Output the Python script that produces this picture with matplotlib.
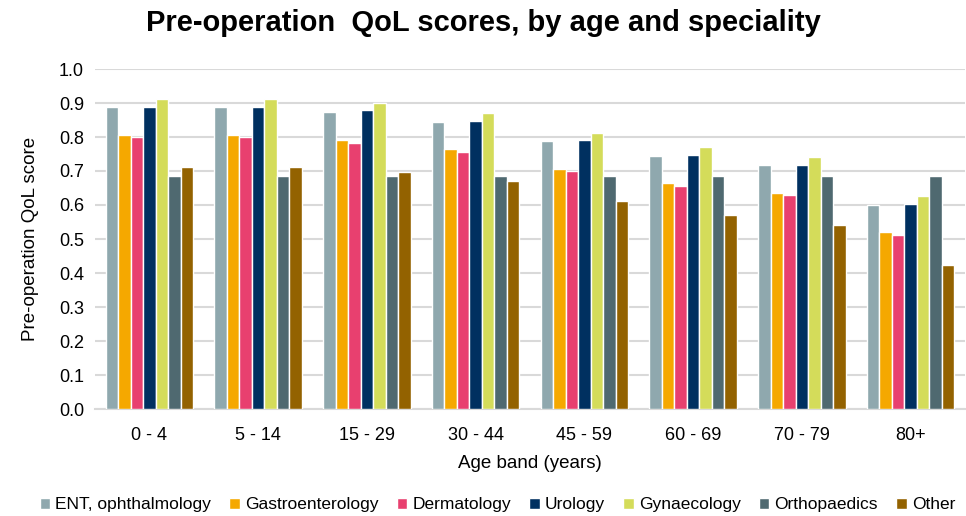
import numpy as np
import matplotlib.pyplot as plt

plt.rcParams["font.family"] = ["Liberation Sans", "DejaVu Sans"]

age_bands = ["0 - 4", "5 - 14", "15 - 29", "30 - 44", "45 - 59", "60 - 69", "70 - 79", "80+"]
specialities = ["ENT, ophthalmology", "Gastroenterology", "Dermatology", "Urology",
                "Gynaecology", "Orthopaedics", "Other"]
colours = ["#8FA8AE", "#F5A800", "#E8406F", "#003060", "#D4DC5A", "#4F6970", "#936200"]

ent = [0.888, 0.888, 0.874, 0.844, 0.787, 0.744, 0.717, 0.600]
gastro = [0.806, 0.806, 0.791, 0.765, 0.706, 0.666, 0.635, 0.520]
derm = [0.799, 0.799, 0.782, 0.756, 0.699, 0.655, 0.628, 0.511]
urology = [0.889, 0.889, 0.879, 0.847, 0.790, 0.747, 0.717, 0.604]
gynae = [0.912, 0.912, 0.900, 0.871, 0.812, 0.771, 0.741, 0.626]
ortho = [0.685, 0.685, 0.685, 0.685, 0.684, 0.684, 0.685, 0.685]
other = [0.712, 0.712, 0.697, 0.670, 0.612, 0.571, 0.540, 0.424]
series = [ent, gastro, derm, urology, gynae, ortho, other]

fig = plt.figure(figsize=(9.66, 5.16), dpi=100)
ax = fig.add_axes([95 / 966, 1 - 409 / 516, 870 / 966, 340 / 516])

x = np.arange(len(age_bands))
w = 0.115
for i, (vals, name, col) in enumerate(zip(series, specialities, colours)):
    ax.bar(x + (i - 3) * w, vals, width=w, color=col, edgecolor="white",
           linewidth=1.0, label=name, zorder=3)

ax.set_xlim(-0.5, len(age_bands) - 0.5)
ax.set_ylim(0, 1.0)
ax.set_yticks(np.arange(0, 1.01, 0.1))
ax.set_yticklabels([f"{v:.1f}" for v in np.arange(0, 1.01, 0.1)])
ax.set_xticks(x)
ax.set_xticklabels(age_bands)
ax.tick_params(axis="both", length=0, labelsize=13, colors="#000000")
ax.tick_params(axis="x", pad=13)
ax.tick_params(axis="y", pad=8)
ax.yaxis.grid(True, color="#D9D9D9", linewidth=1.5, zorder=0)
for s in ["top", "right", "left"]:
    ax.spines[s].set_visible(False)
ax.spines["bottom"].set_color("#D9D9D9")
ax.spines["bottom"].set_linewidth(1.5)

ax.set_xlabel("Age band (years)", fontsize=13.5, labelpad=8)
ax.set_ylabel("Pre-operation QoL score", fontsize=13.5, labelpad=14)
fig.text(0.5, 0.955, "Pre-operation  QoL scores, by age and speciality", ha="center",
         va="center", fontsize=21, fontweight="bold")

fig.legend(loc="center", bbox_to_anchor=(0.515, 0.022), ncol=7, frameon=False,
           fontsize=12.5, handlelength=0.6, handleheight=0.6, handletextpad=0.3,
           columnspacing=1.05)

fig.savefig("out.png", dpi=100)
